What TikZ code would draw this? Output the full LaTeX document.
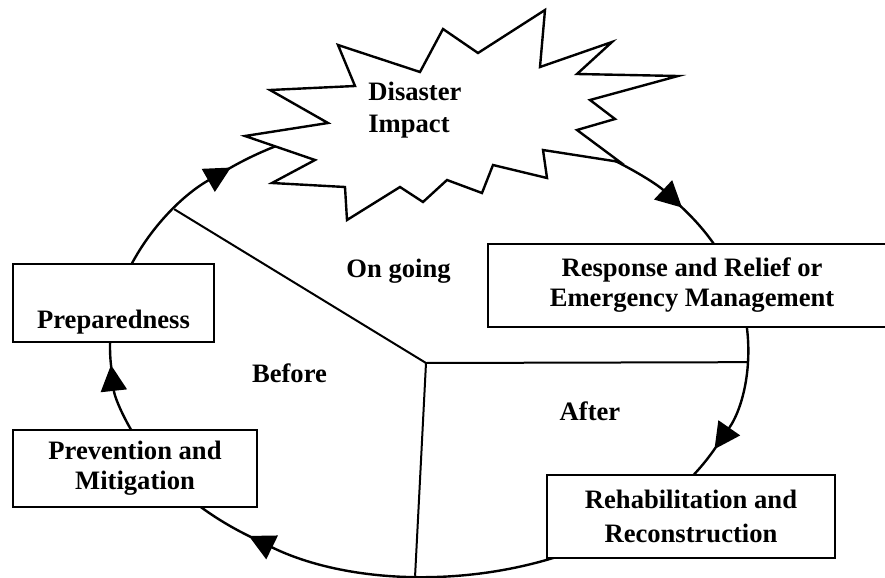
\documentclass[tikz,border=0pt]{standalone}
\usepackage{fontspec}
\setmainfont{Liberation Serif}
\usetikzlibrary{arrows.meta,calc}

% one piece of the disaster-management cycle (radii 159.5pt and 114.5pt),
% between two angles measured clockwise from east
\newcommand\cycseg[3][]{%
  \draw[cyc,#1] ($(C)+(-#2:159.5pt and 114.5pt)$)
    arc[start angle=-#2,end angle=-#3,x radius=159.5pt,y radius=114.5pt];}

\begin{document}
\begin{tikzpicture}[x=0.5pt,y=-0.5pt,
  every node/.style={font=\fontsize{13.3}{15}\selectfont\bfseries},
  box/.style={draw,line width=1.3pt,fill=white,align=center,inner sep=0pt},
  cyc/.style={line width=1.2pt},
  tip/.style={-{Triangle[length=13pt,width=13pt]}},
  divider/.style={line width=1pt},
  lbl/.style={anchor=base,inner sep=0pt}]

\useasboundingbox (0,0) rectangle (885,578);

\coordinate (C) at (429,347);
\coordinate (D) at (426,363);
\coordinate (dA) at ($(C)+(-217:159.5pt and 114.5pt)$);
\coordinate (dB) at ($(C)+(-3.8:159.5pt and 114.5pt)$);
\coordinate (dC) at ($(C)+(-92.5:159.5pt and 114.5pt)$);

% the cycle, clockwise
\cycseg[tip]{195}{231.6}
\cycseg{231}{246}
\cycseg[tip]{300}{322.5}
\cycseg{322}{340}
\cycseg[tip]{350}{386.5}
\cycseg{386}{400}
\cycseg[tip]{60}{124.4}
\cycseg{124}{145}
\cycseg[tip]{150}{175.5}
\cycseg{175}{190}

% burst around the impact
\draw[line width=1.2pt,fill=white,line join=miter]
  (338,45) -- (420,72) -- (443,29) -- (478,53) -- (545,10) -- (540,67)
  -- (612,42) -- (577,74) -- (678,76) -- (590,100) -- (615,119)
  -- (577,130) -- (620,162) -- (543,150) -- (547,178) -- (493,165)
  -- (482,193) -- (447,180) -- (423,202) -- (400,187) -- (347,220)
  -- (345,187) -- (272,183) -- (315,160) -- (245,136) -- (328,123)
  -- (270,90) -- (355,86) -- cycle;
\node[align=left,anchor=north west,inner sep=0pt,
      font=\fontsize{13.3}{16}\selectfont\bfseries] (impact) at (368,82)
  {Disaster\\Impact};

% phases
\node[box,minimum width=100.5pt,minimum height=39pt,
      text height=25pt,text depth=0pt] (prep) at (113.5,303) {Preparedness};
\node[box,minimum width=204pt,minimum height=41.5pt] (resp) at (692,285.5)
  {Response and Relief or\\Emergency Management};
\node[box,minimum width=144pt,minimum height=41.5pt,
      font=\fontsize{13.3}{17}\selectfont\bfseries] (rehab) at (691,516.5)
  {Rehabilitation and\\Reconstruction};
\node[box,minimum width=122pt,minimum height=38.5pt] (prev) at (135,468.5)
  {Prevention and\\Mitigation};

% sectors
\draw[divider] (D) -- (dA);
\draw[divider] (D) -- (dB);
\draw[divider] (D) -- (dC);

\node[lbl] (ongoing) at (398.5,277) {On going};
\node[lbl] (before) at (289.5,382) {Before};
\node[lbl] (after) at (590,420) {After};
\end{tikzpicture}
\end{document}
